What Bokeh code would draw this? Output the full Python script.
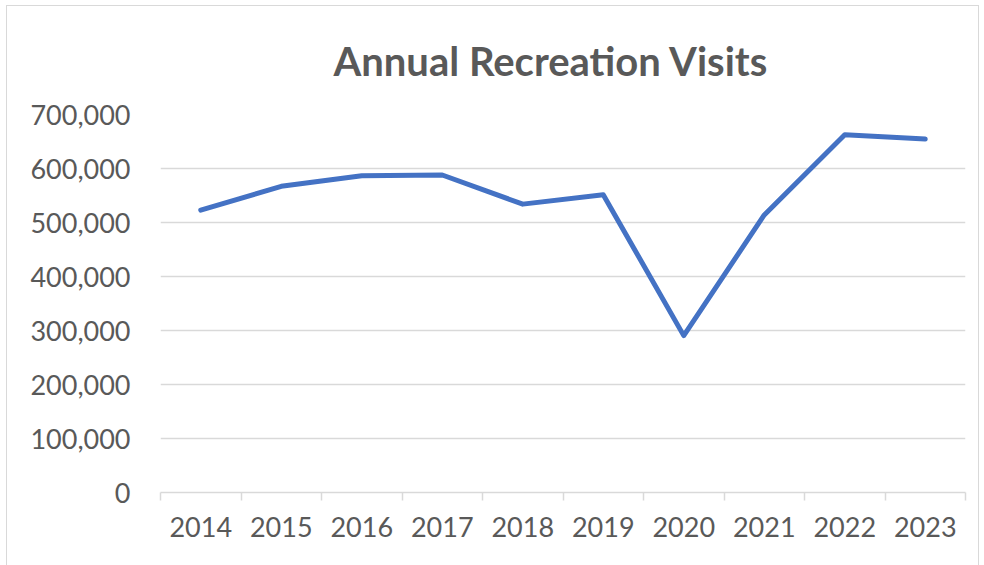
from bokeh.plotting import figure
from bokeh.models import FixedTicker, NumeralTickFormatter, Range1d, ColumnDataSource, InlineStyleSheet
from bokeh.embed import file_html
from bokeh.resources import INLINE

years = [2014, 2015, 2016, 2017, 2018, 2019, 2020, 2021, 2022, 2023]
visits = [523000, 567000, 586500, 588000, 534000, 551500, 290500, 514000, 662500, 654500]
y_ticks = [0, 100000, 200000, 300000, 400000, 500000, 600000, 700000]

TEXT = "#595959"
GRID = "#d9d9d9"
FONT = "Lato"

src = ColumnDataSource(dict(year=years, visits=visits))

p = figure(width=984, height=565, output_backend="svg", toolbar_location=None,
           x_range=Range1d(years[0] - 0.5, years[-1] + 0.5),
           y_range=Range1d(0, 700000),
           min_border_left=160, min_border_right=19, min_border_top=114, min_border_bottom=73)

p.title.text = "Annual Recreation Visits"
p.title.align = "left"
p.title.text_font = FONT
p.title.text_font_size = "40px"
p.title.text_font_style = "bold"
p.title.text_color = TEXT
p.title.text_line_height = 0.7
p.title.standoff = 60
p.title.offset = 173

p.line("year", "visits", source=src, line_color="#4472C4", line_width=5,
       line_cap="round", line_join="round")

p.outline_line_color = None
p.background_fill_color = "white"
p.border_fill_color = "white"

# x axis
bounds = [y - 0.5 for y in years] + [years[-1] + 0.5]
p.xaxis.ticker = FixedTicker(ticks=years, minor_ticks=bounds)
p.xaxis.major_tick_line_color = None
p.xaxis.major_tick_out = 0
p.xaxis.major_tick_in = 0
p.xaxis.minor_tick_line_color = GRID
p.xaxis.minor_tick_line_width = 1.5
p.xaxis.minor_tick_out = 8
p.xaxis.minor_tick_in = 0
p.xaxis.axis_line_color = GRID
p.xaxis.axis_line_width = 1.5
p.xaxis.major_label_text_font = FONT
p.xaxis.major_label_text_font_size = "27px"
p.xaxis.major_label_text_color = TEXT
p.xaxis.major_label_standoff = 16
p.xgrid.grid_line_color = None

# y axis
p.yaxis.ticker = FixedTicker(ticks=y_ticks)
p.yaxis.formatter = NumeralTickFormatter(format="0,0")
p.yaxis.axis_line_color = None
p.yaxis.major_tick_line_color = None
p.yaxis.minor_tick_line_color = None
p.yaxis.major_tick_out = 0
p.yaxis.major_label_text_font = FONT
p.yaxis.major_label_text_font_size = "27px"
p.yaxis.major_label_text_color = TEXT
p.yaxis.major_label_standoff = 30
p.ygrid.ticker = FixedTicker(ticks=y_ticks)
p.ygrid.grid_line_color = GRID
p.ygrid.grid_line_width = 1.5

p.stylesheets = [InlineStyleSheet(css="""
:host { position: relative; }
:host::after { content: ''; position: absolute; left: 6px; top: 5px; right: 5px; bottom: -10px;
  border: 1.5px solid #d9d9d9; pointer-events: none; z-index: 10; }
""")]

open("out.html", "w").write(file_html(p, INLINE))
